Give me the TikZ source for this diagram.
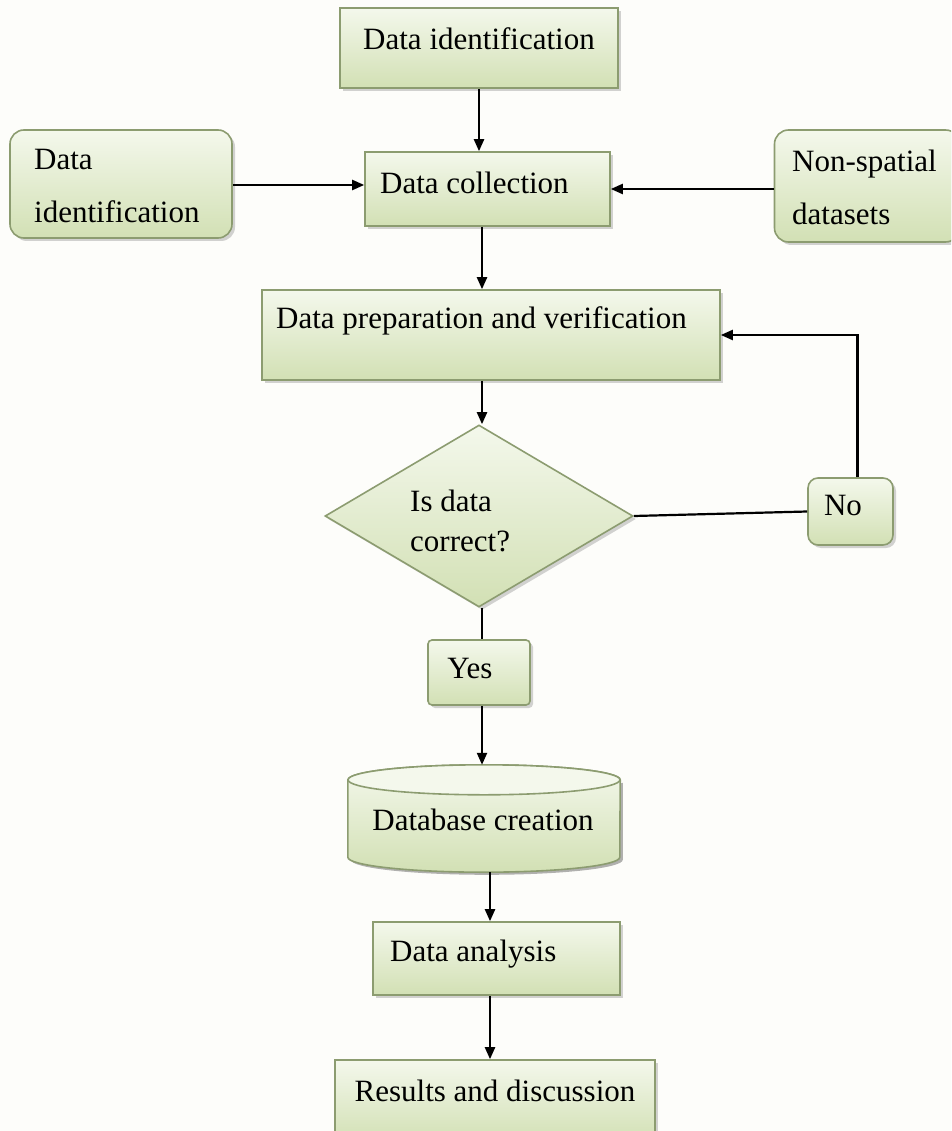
\documentclass[tikz,border=0pt]{standalone}
\usepackage{fontspec}
\setmainfont{Liberation Serif}
\usetikzlibrary{arrows.meta,shapes.geometric,shadows}
\definecolor{bgc}{HTML}{FDFDFA}
\definecolor{topc}{HTML}{F4F8EC}
\definecolor{botc}{HTML}{D2E0B4}
\definecolor{edgec}{HTML}{8C9C70}
\tikzset{
  boxstyle/.style={draw=edgec, line width=1.6pt, top color=topc, bottom color=botc,
    inner sep=0pt, drop shadow={shadow xshift=3pt, shadow yshift=-3pt, opacity=0.35}},
  roundbox/.style={boxstyle, rounded corners=14pt},
  lbl/.style={font=\fontsize{31}{37}\selectfont, inner sep=0pt, text=black},
  arr/.style={line width=2.2pt, -{Triangle[length=12pt,width=10pt]}},
  ln/.style={line width=2.2pt},
}
\begin{document}
\begin{tikzpicture}[x=1pt,y=-1pt]
\useasboundingbox (0,0) rectangle (951,1131);
\clip (0,0) rectangle (951,1131);
\fill[bgc] (0,0) rectangle (951,1131);

% boxes
\node[boxstyle, minimum width=278pt, minimum height=80pt] (id1) at (479,48) {};
\node[roundbox, minimum width=222pt, minimum height=108pt] (id2) at (121,184) {};
\node[boxstyle, minimum width=245pt, minimum height=74pt] (coll) at (487.5,189) {};
\node[roundbox, minimum width=185pt, minimum height=112pt] (nons) at (867,186) {};
\node[boxstyle, minimum width=458pt, minimum height=90pt] (prep) at (491,335) {};
\node[boxstyle, diamond, aspect=1.69, minimum width=308pt, minimum height=182pt] (dia) at (479,516) {};
\node[roundbox, rounded corners=10pt, minimum width=85pt, minimum height=67pt] (no) at (850.5,511.5) {};
\node[boxstyle, rounded corners=4pt, minimum width=102pt, minimum height=65pt] (yes) at (479,672.5) {};
\node[boxstyle, minimum width=247pt, minimum height=73pt] (ana) at (496.5,958.5) {};
\node[boxstyle, minimum width=320pt, minimum height=82pt] (res) at (495,1101) {};

% cylinder
\node[inner sep=0pt, minimum width=272pt, minimum height=107pt] (db) at (484,818.5) {};
\fill[black, opacity=0.3] ([xshift=3pt,yshift=-3pt]db.north west) ++(0,15)
   -- ++(0,77) arc[x radius=136, y radius=15, start angle=180, end angle=0] -- ++(0,-77) -- cycle;
\draw[draw=edgec, line width=1.6pt, top color=topc, bottom color=botc]
   ([yshift=-15pt]db.north west) -- ([yshift=15pt]db.south west)
   arc[x radius=136, y radius=-15, start angle=180, end angle=360]
   -- ([yshift=-15pt]db.north east)
   arc[x radius=136, y radius=-15, start angle=0, end angle=180] -- cycle;
\draw[draw=edgec, line width=1.6pt, fill=topc]
   ([yshift=-15pt]db.north) ellipse[x radius=136, y radius=15];

% labels
\node[lbl] (t1) at (479,39) {Data identification};
\node[lbl, anchor=west] (t2a) at (34,160) {Data};
\node[lbl, anchor=west] (t2b) at (34,212) {identification};
\node[lbl, anchor=west] (t3) at (380,183) {Data collection};
\node[lbl, anchor=west] (t4a) at (792,164) {Non-spatial};
\node[lbl, anchor=west] (t4b) at (792,214) {datasets};
\node[lbl, anchor=west] (t5) at (276,321) {Data preparation and verification};
\node[lbl, anchor=west] (t6a) at (410,501) {Is data};
\node[lbl, anchor=west] (t6b) at (410,541) {correct?};
\node[lbl] (t7) at (843,505) {No};
\node[lbl] (t8) at (470,668) {Yes};
\node[lbl] (t9) at (483,820) {Database creation};
\node[lbl, anchor=west] (t10) at (390,954) {Data analysis};
\node[lbl] (t11) at (495,1091) {Results and discussion};

% connectors
\draw[arr] (id1.south) -- (id1.south |- coll.north);
\draw[arr] ([yshift=-1pt]id2.east) -- ([yshift=-1pt]id2.east -| coll.west);
\draw[arr] ([yshift=-3pt]nons.west) -- ([yshift=-3pt]nons.west -| coll.east);
\draw[arr] ([xshift=-5.5pt]coll.south) -- ([xshift=-5.5pt]coll.south |- prep.north);
\draw[arr] ([xshift=3pt]dia.north |- prep.south) -- ([xshift=3pt]dia.north);
\draw[ln] (dia.east) -- (no.west);
\draw[arr] ([xshift=7pt]no.north) -- ([xshift=7pt]no.north |- prep.east) -- (prep.east);
\draw[ln] ([xshift=3pt]dia.south) -- ([xshift=3pt]dia.south |- yes.north);
\draw[arr] ([xshift=3pt]yes.south) -- ([xshift=3pt]yes.south |- db.north);
\draw[arr] ([xshift=6pt]db.south) -- ([xshift=6pt]db.south |- ana.north);
\draw[arr] ([xshift=-6.5pt]ana.south) -- ([xshift=-6.5pt]ana.south |- res.north);
\end{tikzpicture}
\end{document}
